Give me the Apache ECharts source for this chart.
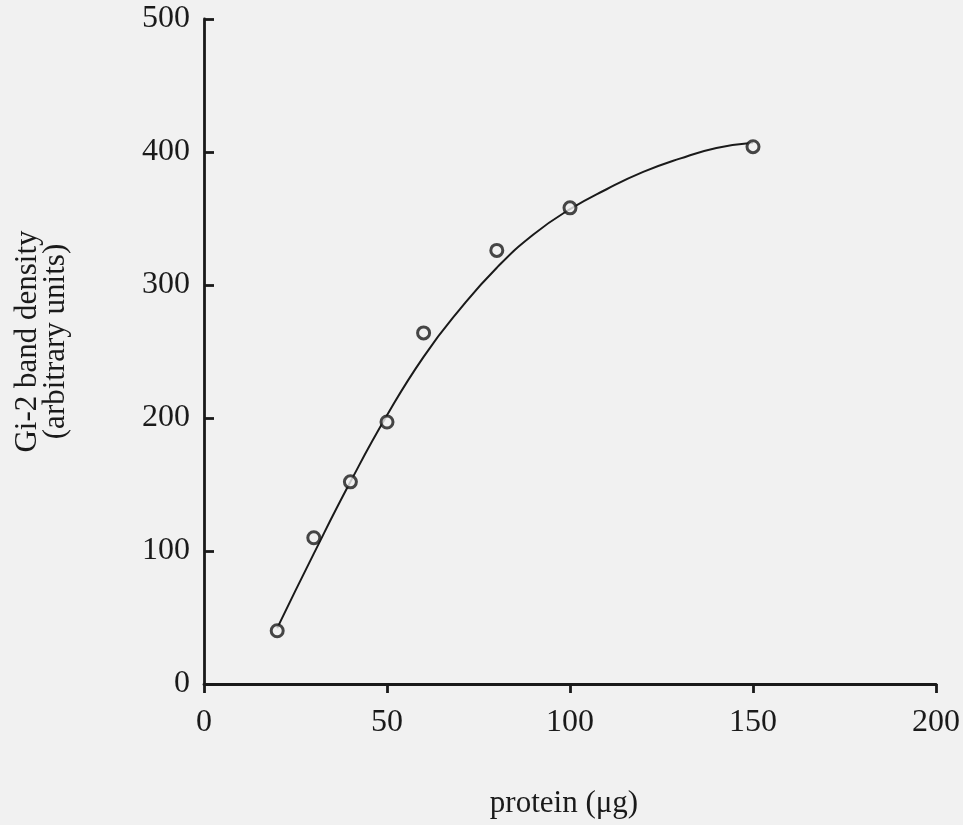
<!DOCTYPE html>
<html>
<head>
<meta charset="utf-8">
<script src="https://cdn.jsdelivr.net/npm/echarts@6/dist/echarts.min.js"></script>
<style>
html,body{margin:0;padding:0;background:#f1f1f1;}
#chart{width:963px;height:825px;}
</style>
</head>
<body>
<div id="chart"></div>
<script>
// Measured points
var proteinX = [20, 30, 40, 50, 60, 80, 100, 150];
var densityY = [40, 110, 152, 197, 264, 326, 358, 404];
// Fitted curve
var curveX = [20, 30, 40, 50, 60, 70, 80, 90, 100, 110, 120, 130, 140, 150];
var curveY = [42, 98, 152, 202, 246, 282, 313, 338, 357, 372, 385, 395, 403, 407];
var xTicks = [0, 50, 100, 150, 200];
var yTicks = [0, 100, 200, 300, 400, 500];
var xName = 'protein (\u03bcg)';
var yName = 'Gi-2 band density\n(arbitrary units)';

var ink = '#1a1a1a';
var font = '"Liberation Serif", "Times New Roman", serif';

var chart = echarts.init(document.getElementById('chart'));
chart.setOption({
  backgroundColor: '#f1f1f1',
  animation: false,
  grid: {left: 204, right: 27, top: 19, bottom: 141},
  xAxis: {
    type: 'value', min: xTicks[0], max: xTicks[xTicks.length - 1], interval: 50,
    name: xName, nameLocation: 'middle', nameGap: 104,
    nameTextStyle: {fontFamily: font, fontSize: 31, color: ink, padding: [0, 12, 0, 0]},
    axisLine: {lineStyle: {color: ink, width: 2.8}},
    axisTick: {inside: false, length: 9, lineStyle: {color: ink, width: 2.8}},
    axisLabel: {fontFamily: font, fontSize: 32, color: ink, margin: 23},
    splitLine: {show: false}
  },
  yAxis: {
    type: 'value', min: yTicks[0], max: yTicks[yTicks.length - 1], interval: 100,
    name: yName, nameLocation: 'middle', nameGap: 134, nameRotate: 90,
    nameTextStyle: {fontFamily: font, fontSize: 31, color: ink, lineHeight: 28, padding: [0, 0, 0, 20]},
    axisLine: {show: true, lineStyle: {color: ink, width: 2.8}},
    axisTick: {show: true, inside: true, length: 10, lineStyle: {color: ink, width: 2.8}},
    axisLabel: {fontFamily: font, fontSize: 32, color: ink, margin: 14},
    splitLine: {show: false}
  },
  series: [
    {
      type: 'line', smooth: true, showSymbol: false, silent: true,
      data: curveX.map(function (x, i) { return [x, curveY[i]]; }),
      lineStyle: {color: ink, width: 2}
    },
    {
      type: 'scatter', symbol: 'circle', symbolSize: 12,
      data: proteinX.map(function (x, i) { return [x, densityY[i]]; }),
      itemStyle: {color: '#f1f1f1', borderColor: ink, borderWidth: 3},
      z: 3
    }
  ]
});
</script>
</body>
</html>
